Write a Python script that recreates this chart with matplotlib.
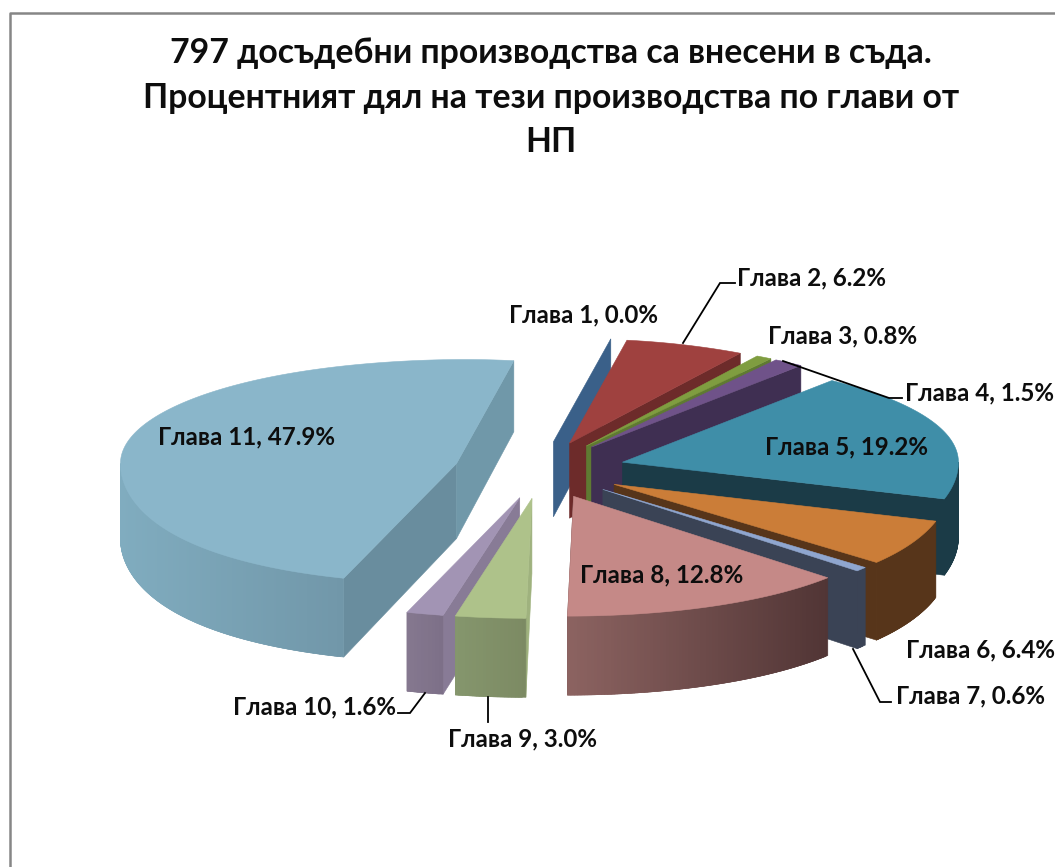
import numpy as np
import matplotlib
matplotlib.use("Agg")
import matplotlib.pyplot as plt
from matplotlib.collections import PolyCollection
from matplotlib.colors import to_rgb

plt.rcParams['font.family'] = ['Lato', 'Open Sans', 'DejaVu Sans']

# ---- data ----
title_lines = ["797 досъдебни производства са внесени в съда.",
               "Процентният дял на тези производства по глави от",
               "НП"]
chapters = ["Глава 1", "Глава 2", "Глава 3", "Глава 4", "Глава 5", "Глава 6",
            "Глава 7", "Глава 8", "Глава 9", "Глава 10", "Глава 11"]
shares = [0.0, 6.2, 0.8, 1.5, 19.2, 6.4, 0.6, 12.8, 3.0, 1.6, 47.9]

# ---- styles ----
top_colors = ["#3a6089", "#9f413f", "#7f9d40", "#6f5289", "#3f8ea8", "#cb7d38",
              "#8fa6cf", "#c58987", "#aec28a", "#a294b4", "#8ab6ca"]
start_wall = ["#3a6089", "#6d2b2a", "#5a7030", "#40305a", "#1b3b47", "#57351a",
              "#3a4355", "#5a3a3a", "#9fb27e", "#887b96", "#698d9e"]
end_wall = ["#3a6089", "#6d2b2a", "#5f7a32", "#3f2f52", "#1b3b47", "#57351a",
            "#3a4355", "#5a3a3a", "#8a9b6e", "#887b96", "#7098a9"]
outer_left = ["#3a6089", "#6d2b2a", "#5a7030", "#3f2f52", "#1b3b47", "#57351a",
              "#3a4355", "#8c6361", "#85966d", "#85788f", "#80acbf"]
outer_right = ["#3a6089", "#6d2b2a", "#5a7030", "#3f2f52", "#1b3b47", "#57351a",
               "#3a4355", "#513535", "#7c8a63", "#7d7088", "#7197a9"]
draw_order = [0, 1, 2, 3, 4, 5, 6, 7, 9, 8, 10]
label_pos = [(509, 315), (737, 278), (768, 336), (905, 393), (765, 447), (906, 650),
             (896, 696), (580, 575), (448, 739), (233, 707), (158, 437)]
leaders = [[(683, 343), (720, 283), (735, 283)],
           [(783, 361), (889, 398), (902, 398)],
           [(853, 649), (880, 702), (891, 702)],
           [(488, 697), (488, 722)],
           [(425, 693), (410, 713), (398, 713)]]

CX, CY, RX, RY = 540.0, 470.0, 336.0, 112.0
EXPLODE = 0.255
START = 9.0


def rim(theta, apex):
    t = np.radians(theta)
    u, v = np.sin(t), -np.cos(t)
    kx = np.where(v > 0, 1 + 0.13 * v**2, 1 - 0.04 * v**2)
    lean = np.where(v > 0, -6 * v**2, 8 * v**12)
    x = apex[0] + RX * u * kx + lean
    y = apex[1] + RY * v * (1 + 0.07 * v)
    return x, y, 75 + 4 * v


fig = plt.figure(figsize=(10.55, 8.67), dpi=100)
ax = fig.add_axes([0, 0, 1, 1])
ax.set_xlim(0, 1055)
ax.set_ylim(867, 0)
ax.axis("off")

# chart frame
ax.plot([10, 10, 1055], [867, 13, 13], color="#868686", lw=1.8, zorder=1)

edges = START + np.concatenate([[0], np.cumsum(shares)]) * 3.6
z = 2
for i in draw_order:
    a, b = edges[i], edges[i + 1]
    mid = np.radians((a + b) / 2)
    apex = (CX + EXPLODE * RX * np.sin(mid), CY - EXPLODE * RY * np.cos(mid))
    th = np.linspace(a, b, max(2, int(b - a) + 2))
    x, y, d = rim(th, apex)

    # radial walls
    if -np.sin(np.radians(a)) > -0.05:
        ax.fill([apex[0], x[0], x[0], apex[0]],
                [apex[1], y[0], y[0] + d[0], apex[1] + 75],
                color=start_wall[i], lw=0.4, zorder=z)
    if np.sin(np.radians(b)) > -0.05:
        ax.fill([apex[0], x[-1], x[-1], apex[0]],
                [apex[1], y[-1], y[-1] + d[-1], apex[1] + 75],
                color=end_wall[i], lw=0.4, zorder=z)
    z += 1

    # outer wall with gradient (overlapping quads so no seams show)
    lo, hi = max(a, 90), min(b, 270)
    if hi > lo:
        ot = np.linspace(lo, hi, max(3, int((hi - lo) * 2)))
        ox, oy, od = rim(ot, apex)
        quads, cols = [], []
        xmin, xmax = ox.min(), ox.max()
        cl, cr = np.array(to_rgb(outer_left[i])), np.array(to_rgb(outer_right[i]))
        for k in range(len(ot) - 1):
            m = min(k + 2, len(ot) - 1)
            quads.append([(ox[k], oy[k]), (ox[m], oy[m]),
                          (ox[m], oy[m] + od[m]), (ox[k], oy[k] + od[k])])
            f = ((ox[k] + ox[k + 1]) / 2 - xmin) / max(xmax - xmin, 1)
            cols.append(cl + (cr - cl) * f)
        ax.add_collection(PolyCollection(quads, facecolors=cols, edgecolors=cols,
                                         linewidths=0.4, zorder=z))
    z += 1

    # top face
    if b > a:
        ax.fill(np.r_[apex[0], x], np.r_[apex[1], y], color=top_colors[i], lw=0.4, zorder=z)
    z += 1

# leader lines
for pts in leaders:
    ax.plot(*zip(*pts), color="black", lw=1.3, zorder=z, solid_joinstyle="miter")
z += 1

# labels
for name, val, (lx, ly) in zip(chapters, shares, label_pos):
    ax.text(lx, ly, f"{name}, {val:.1f}%", ha="left", va="center", fontsize=17.4,
            fontweight="bold", color="#0d0d0d", zorder=z, clip_on=True)

for line, ty in zip(title_lines, [63, 108, 152]):
    ax.text(551, ty, line, ha="center", va="baseline", fontsize=24.3,
            fontweight="bold", color="#0d0d0d", zorder=z)

fig.savefig("out.png", dpi=100, facecolor="white")
